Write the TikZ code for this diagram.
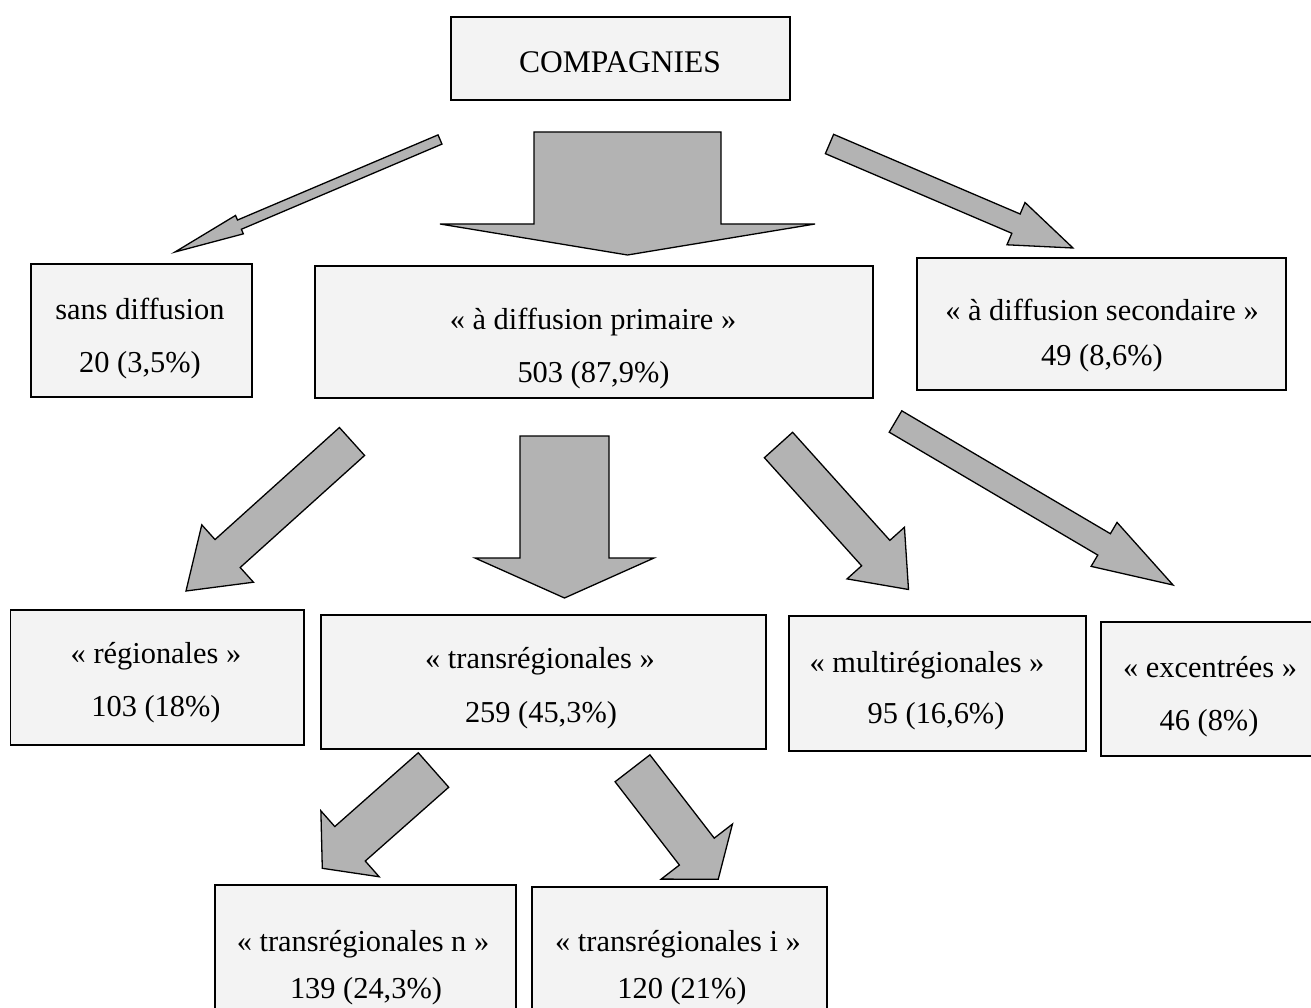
\documentclass[tikz,border=0pt]{standalone}
\usepackage{fontspec}
\setmainfont{Liberation Serif}
\definecolor{boxfill}{RGB}{243,243,243}
\definecolor{arrfill}{RGB}{179,179,179}
\tikzset{
  box/.style={draw=black, line width=1.6pt, fill=boxfill, rectangle, inner sep=0pt, outer sep=0pt},
  lbl/.style={anchor=base, inner sep=0pt, font=\fontsize{30.4}{36}\selectfont},
  blockarrow/.style={draw=black, line width=1.3pt, fill=arrfill, line join=miter},
}
% name, x1, y1, x2, y2 (pixel coordinates, y downwards)
\newcommand\boxnode[5]{%
  \node[box, minimum width={#4-#2}, minimum height={#5-#3}] (#1) at ({(#2+#4)/2},{(#3+#5)/2}) {};}
% tail x, tail y, tip x, tip y, shaft half width, head half width, head length
\newcommand\blockarr[7]{%
  \pgfmathsetmacro\baDx{#3-#1}\pgfmathsetmacro\baDy{#4-#2}%
  \pgfmathsetmacro\baLen{veclen(\baDx,\baDy)}%
  \pgfmathsetmacro\baUx{\baDx/\baLen}\pgfmathsetmacro\baUy{\baDy/\baLen}%
  \pgfmathsetmacro\baBx{#3-(#7)*(\baUx)}\pgfmathsetmacro\baBy{#4-(#7)*(\baUy)}%
  \draw[blockarrow]
    ({#1-(#5)*(\baUy)},{#2+(#5)*(\baUx)}) --
    ({\baBx-(#5)*(\baUy)},{\baBy+(#5)*(\baUx)}) --
    ({\baBx-(#6)*(\baUy)},{\baBy+(#6)*(\baUx)}) --
    (#3,#4) --
    ({\baBx+(#6)*(\baUy)},{\baBy-(#6)*(\baUx)}) --
    ({\baBx+(#5)*(\baUy)},{\baBy-(#5)*(\baUx)}) --
    ({#1+(#5)*(\baUy)},{#2-(#5)*(\baUx)}) -- cycle;}
\begin{document}
\begin{tikzpicture}[x=1pt,y=-1pt]
\useasboundingbox (0,0) rectangle (1311,1008);
\clip (0,0) rectangle (1311,1008);
\fill[white] (0,0) rectangle (1311,1008);

% boxes
\boxnode{comp}{451}{17}{790}{100}
\boxnode{sans}{31}{264}{252}{397}
\boxnode{prim}{315}{266}{873}{398}
\boxnode{sec}{917}{258}{1286}{390}
\boxnode{reg}{10.5}{610}{304}{745}
\boxnode{trans}{321}{615}{766}{749}
\boxnode{multi}{789}{616}{1086}{751}
\boxnode{exc}{1101}{622}{1330}{756}
\boxnode{tn}{215}{885}{516}{1030}
\boxnode{ti}{532}{887}{827}{1030}

% texts
\node[lbl, font=\fontsize{31.5}{36}\selectfont] (compT) at (620,73) {COMPAGNIES};
\node[lbl] (sansA) at (140,319) {sans diffusion};
\node[lbl] (sansB) at (140,372) {20 (3,5\%)};
\node[lbl] (primA) at (593,329) {« à diffusion primaire »};
\node[lbl] (primB) at (593.5,382) {503 (87,9\%)};
\node[lbl] (secA) at (1102,320) {« à diffusion secondaire »};
\node[lbl] (secB) at (1102,365) {49 (8,6\%)};
\node[lbl] (regA) at (156,663) {« régionales »};
\node[lbl] (regB) at (156,716) {103 (18\%)};
\node[lbl] (transA) at (540,668) {« transrégionales »};
\node[lbl] (transB) at (541,722) {259 (45,3\%)};
\node[lbl] (multiA) at (927,672) {« multirégionales »};
\node[lbl] (multiB) at (936,723) {95 (16,6\%)};
\node[lbl] (excA) at (1210,677) {« excentrées »};
\node[lbl] (excB) at (1209,730) {46 (8\%)};
\node[lbl] (tnA) at (363,951) {« transrégionales n »};
\node[lbl] (tnB) at (366,998) {139 (24,3\%)};
\node[lbl] (tiA) at (678,951) {« transrégionales i »};
\node[lbl] (tiB) at (682,998) {120 (21\%)};

% block arrows
\blockarr{440}{139.5}{175}{252}{5}{10}{70}
\blockarr{627.5}{132}{627.5}{255}{93.5}{187.5}{31}
\blockarr{829.5}{144}{1073}{248}{10.5}{23}{62}
\blockarr{352}{441.5}{186}{591}{18.8}{38.6}{56}
\blockarr{564.5}{436}{564.5}{598}{44.5}{89.5}{40}
\blockarr{778.5}{445}{908.5}{589.5}{19}{38.6}{49}
\blockarr{895.5}{421.5}{1173}{585}{12.4}{25.5}{80}
\blockarr{433.5}{770}{322.3}{868.3}{23}{44}{37}
\blockarr{632.5}{768.3}{718.2}{879.3}{22}{45}{35}
\end{tikzpicture}
\end{document}
